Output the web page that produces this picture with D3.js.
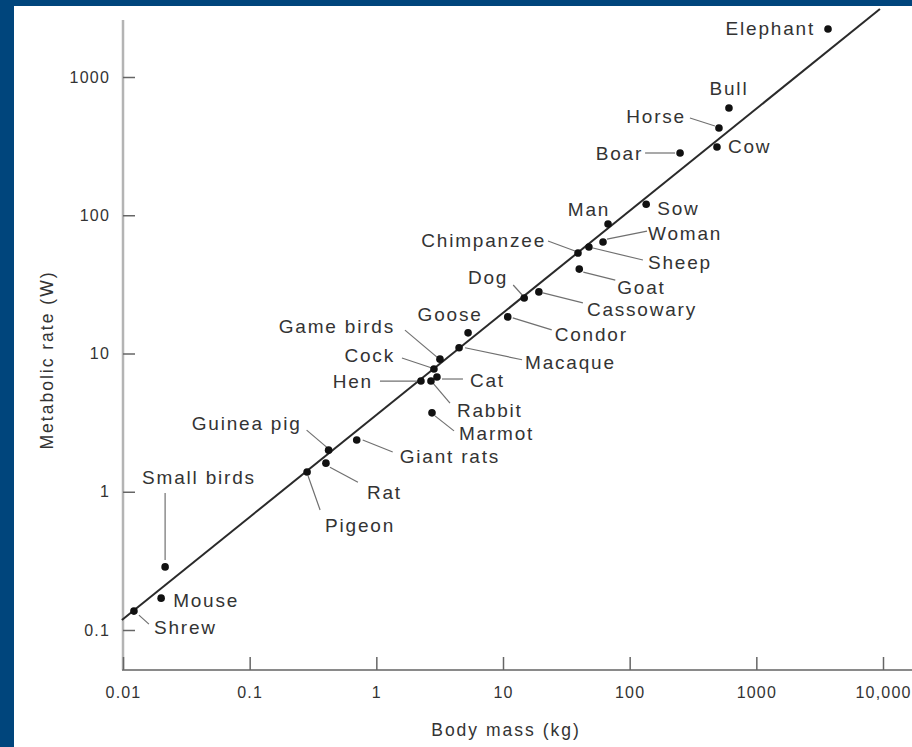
<!DOCTYPE html>
<html>
<head>
<meta charset="utf-8">
<script src="https://cdn.jsdelivr.net/npm/d3@7"></script>
<style>
  html, body { margin: 0; padding: 0; background: #00457c; }
  svg { display: block; }
  text { font-family: "Liberation Sans", Arial, sans-serif; fill: #333333; }
</style>
</head>
<body>
<svg id="chart" width="912" height="747"></svg>
<script>
// ---- data ----
const animals = ["Elephant","Bull","Horse","Cow","Boar","Sow","Man","Woman","Sheep","Chimpanzee","Goat",
  "Dog","Cassowary","Condor","Goose","Macaque","Game birds","Cock","Cat","Hen","Rabbit","Marmot",
  "Giant rats","Guinea pig","Rat","Pigeon","Small birds","Mouse","Shrew"];
const bodyMass = [3680, 608, 507, 489, 250, 135, 67.5, 61.6, 47.7, 39.1, 40,
  14.7, 19.2, 10.9, 5.3, 4.5, 3.18, 2.85, 3.01, 2.25, 2.70, 2.75,
  0.70, 0.42, 0.40, 0.284, 0.0215, 0.020, 0.0122];
const metabolicRate = [2225, 597, 428, 312, 282, 120, 86.5, 64, 58.9, 53.3, 40.8,
  25.2, 27.9, 18.4, 14.1, 11.0, 9.1, 7.73, 6.76, 6.32, 6.32, 3.72,
  2.37, 2.0, 1.61, 1.39, 0.286, 0.170, 0.137];
const fitMass = [0.0098, 9460];
const fitRate = [0.118, 3100];
const xTicks = [0.01, 0.1, 1, 10, 100, 1000, 10000];
const xTickLabels = ["0.01", "0.1", "1", "10", "100", "1000", "10,000"];
const yTicks = [0.1, 1, 10, 100, 1000];
const yTickLabels = ["0.1", "1", "10", "100", "1000"];

// ---- label layout (offsets from each dot, in px) ----
// [dx, dy, anchor, leader x1, y1, x2, y2] (leader optional)
const labelLayout = {
  "Elephant":   [-13, 0, "end"],
  "Bull":       [0, -19, "middle"],
  "Horse":      [-33, -11, "end", -29, -10, -4, -2],
  "Cow":        [11, 0, "start"],
  "Boar":       [-37, 0, "end", -35, 0, -5, 0],
  "Sow":        [11, 4, "start"],
  "Man":        [-19, -14, "middle"],
  "Woman":      [45, -9, "start", 4, -3, 44, -11],
  "Sheep":      [59, 15, "start", 4, 1, 54, 13],
  "Chimpanzee": [-32, -13, "end", -30, -12, -3, -2],
  "Goat":       [38, 18, "start", 4, 3, 36, 11],
  "Dog":        [-16, -21, "end", -11, -13, -2, -3],
  "Cassowary":  [48, 18, "start", 4, 1, 44, 11],
  "Condor":     [47, 18, "start", 5, 1, 44, 13],
  "Goose":      [-18, -18, "middle"],
  "Macaque":    [66, 15, "start", 6, 0, 63, 12],
  "Game birds": [-45, -33, "end", -35, -29, -3, -2],
  "Cock":       [-39, -13, "end", -32, -11, -2, -1],
  "Cat":        [33, 3, "start", 5, 2, 26, 2],
  "Hen":        [-48, 0, "end", -41, 0, -3, 0],
  "Rabbit":     [26, 29, "start", 2, 2, 19, 22],
  "Marmot":     [27, 21, "start", 3, 3, 22, 18],
  "Giant rats": [43, 17, "start", 6, 0, 36, 12],
  "Guinea pig": [-27, -27, "end", -22, -20, -2, -3],
  "Rat":        [41, 29, "start", 4, 4, 32, 19],
  "Pigeon":     [18, 54, "start", 1, 4, 13, 38],
  "Small birds":[-23, -89, "start", 0, -74, 0, -7],
  "Mouse":      [12, 2, "start"],
  "Shrew":      [20, 16, "start", 5, 4, 15, 13]
};

const svg = d3.select("#chart");
// white panel inside blue frame
svg.append("rect").attr("x", 14).attr("y", 6).attr("width", 898).attr("height", 741).attr("fill", "#ffffff");

const x = d3.scaleLog().domain([0.01, 10000]).range([123, 883]);
const y = d3.scaleLog().domain([0.1, 1000]).range([630, 77]);
const axisY0 = 670;

// axis lines
svg.append("line").attr("x1", 123).attr("x2", 123).attr("y1", 20).attr("y2", axisY0)
  .attr("stroke", "#b4b4b4").attr("stroke-width", 2.5);
svg.append("line").attr("x1", 122).attr("x2", 912).attr("y1", axisY0).attr("y2", axisY0)
  .attr("stroke", "#8a8a8a").attr("stroke-width", 2);

// x axis
const gx = svg.append("g").attr("transform", `translate(0,${axisY0})`)
  .call(d3.axisBottom(x).tickValues(xTicks).tickFormat((d, i) => xTickLabels[i])
    .tickSizeInner(-13).tickSizeOuter(0).tickPadding(17));
gx.select(".domain").remove();
gx.selectAll(".tick line").attr("stroke", "#666").attr("stroke-width", 1.5);
gx.selectAll(".tick text").attr("font-size", 16).attr("letter-spacing", 1.2)
  .attr("font-family", "Liberation Sans, Arial, sans-serif").attr("fill", "#333");

// y axis
const gy = svg.append("g").attr("transform", `translate(123,0)`)
  .call(d3.axisLeft(y).tickValues(yTicks).tickFormat((d, i) => yTickLabels[i])
    .tickSizeInner(-12).tickSizeOuter(0).tickPadding(13));
gy.select(".domain").remove();
gy.selectAll(".tick line").attr("stroke", "#666").attr("stroke-width", 1.5);
gy.selectAll(".tick text").attr("font-size", 16).attr("letter-spacing", 1.2)
  .attr("font-family", "Liberation Sans, Arial, sans-serif").attr("fill", "#333");

// axis titles
svg.append("text").attr("x", 506).attr("y", 730).attr("text-anchor", "middle")
  .attr("dominant-baseline", "central").attr("font-size", 17.5).attr("letter-spacing", 2)
  .text("Body mass (kg)");
svg.append("text").attr("transform", "translate(47,360) rotate(-90)").attr("text-anchor", "middle")
  .attr("dominant-baseline", "central").attr("font-size", 17.5).attr("letter-spacing", 2)
  .text("Metabolic rate (W)");

// fit line
const fitPts = fitMass.map((m, i) => [x(m), y(fitRate[i])]);
svg.append("path").attr("d", d3.line()(fitPts)).attr("stroke", "#2a2a2a")
  .attr("stroke-width", 2).attr("fill", "none");

// leader lines and labels
const pts = animals.map((name, i) => ({ name, px: x(bodyMass[i]), py: y(metabolicRate[i]) }));
const gl = svg.append("g");
pts.forEach(p => {
  const L = labelLayout[p.name];
  if (L.length > 3) {
    gl.append("line").attr("x1", p.px + L[3]).attr("y1", p.py + L[4])
      .attr("x2", p.px + L[5]).attr("y2", p.py + L[6])
      .attr("stroke", "#707070").attr("stroke-width", 1.2);
  }
  gl.append("text").attr("x", p.px + L[0]).attr("y", p.py + L[1])
    .attr("text-anchor", L[2]).attr("dominant-baseline", "central")
    .attr("font-size", 19).attr("letter-spacing", 1.8).text(p.name);
});

// dots
svg.append("g").selectAll("circle").data(pts).join("circle")
  .attr("cx", d => d.px).attr("cy", d => d.py).attr("r", 3.8).attr("fill", "#111");
</script>
</body>
</html>
